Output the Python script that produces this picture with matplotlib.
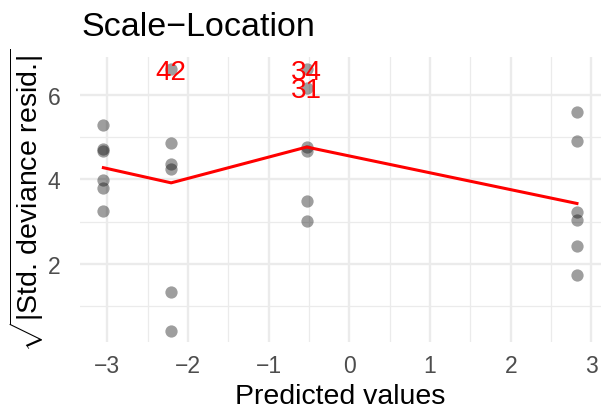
import matplotlib.pyplot as plt
import numpy as np

plt.rcParams['font.family'] = ['Liberation Sans', 'DejaVu Sans']
plt.rcParams['mathtext.fontset'] = 'custom'
plt.rcParams['mathtext.rm'] = 'Liberation Sans'
plt.rcParams['mathtext.it'] = 'Liberation Sans:italic'

# fitted values (one per group) and sqrt|std. deviance residuals|
group_x = [-3.05, -2.21, -0.53, 2.82]
group_y = [
    [5.30, 4.72, 4.68, 3.98, 3.80, 3.24],
    [6.63, 4.86, 4.36, 4.24, 1.33, 0.41],
    [6.63, 6.18, 4.77, 4.68, 3.50, 3.02],
    [5.60, 4.91, 3.22, 3.03, 2.42, 1.74],
]
smooth_y = [4.28, 3.92, 4.77, 3.43]

# labelled outliers
label_text = ["42", "34", "31"]
label_x = [-2.21, -0.53, -0.53]
label_y = [6.63, 6.63, 6.18]

xs = np.repeat(group_x, [len(g) for g in group_y])
ys = np.concatenate(group_y)

fig = plt.figure(figsize=(6.06, 4.14), dpi=100)
ax = fig.add_axes([0.132, 0.1715, 0.86, 0.6885])

ax.set_xlim(-3.34, 3.12)
ax.set_ylim(0.14, 6.91)
ax.set_xticks([-3, -2, -1, 0, 1, 2, 3])
ax.set_xticklabels(["\u22123", "\u22122", "\u22121", "0", "1", "2", "3"])
ax.set_yticks([2, 4, 6])
ax.set_xticks(np.arange(-2.5, 3, 1.0), minor=True)
ax.set_yticks([1, 3, 5], minor=True)

ax.grid(which='major', color='#EBEBEB', linewidth=1.7)
ax.grid(which='minor', color='#EBEBEB', linewidth=0.9)
ax.set_axisbelow(True)
for s in ax.spines.values():
    s.set_visible(False)
ax.tick_params(which='both', length=0)
ax.tick_params(axis='x', pad=9, labelsize=16.5, labelcolor='#4D4D4D')
ax.tick_params(axis='y', pad=14, labelsize=16.5, labelcolor='#4D4D4D')

ax.scatter(xs, ys, s=78, color='black', alpha=0.38, linewidths=0, zorder=2)
ax.plot(group_x, smooth_y, color='#FF0000', linewidth=2.2, zorder=3)

for t, x, y in zip(label_text, label_x, label_y):
    ax.annotate(t, (x, y), xytext=(0, -2), textcoords='offset points',
                color='#FF0000', fontsize=20, ha='center', va='center', zorder=4)

ax.set_title("Scale\u2212Location", loc='left', fontsize=24.5, pad=16, x=0.002)
ax.set_xlabel("Predicted values", fontsize=20.5, labelpad=4)
# mathtext pads "." with 0.2em, pull it back with \!
ax.set_ylabel(r"$\sqrt{|\mathrm{Std.}\!\mathrm{\ deviance\ resid.}\!|}$",
              fontsize=20.5, labelpad=1)

fig.savefig("out.png", dpi=100)
